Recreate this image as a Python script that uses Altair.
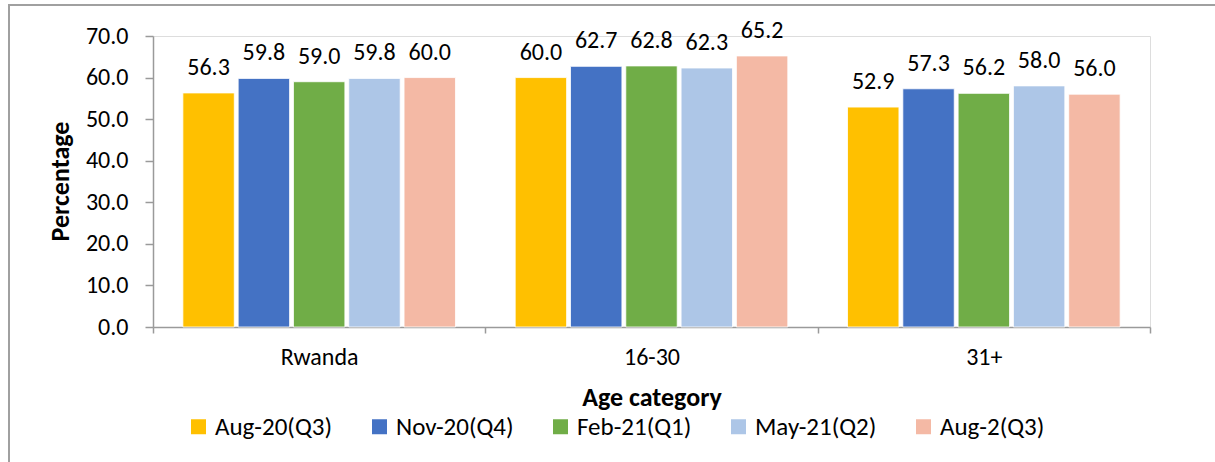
import altair as alt
import pandas as pd

# Age groups and survey rounds
categories = ["Rwanda", "16-30", "31+"]
series = ["Aug-20(Q3)", "Nov-20(Q4)", "Feb-21(Q1)", "May-21(Q2)", "Aug-2(Q3)"]
colors = ["#FFC000", "#4472C4", "#70AD47", "#ADC6E7", "#F4B9A5"]

# Percentage per age group, one list per survey round
aug20 = [56.3, 60.0, 52.9]
nov20 = [59.8, 62.7, 57.3]
feb21 = [59.0, 62.8, 56.2]
may21 = [59.8, 62.3, 58.0]
aug21 = [60.0, 65.2, 56.0]

rows = []
for name, vals in zip(series, [aug20, nov20, feb21, may21, aug21]):
    for cat, v in zip(categories, vals):
        rows.append({"Age category": cat, "Round": name, "Percentage": v})
df = pd.DataFrame(rows)

FONT = "Carlito, Lato, sans-serif"
AXIS_GREY = "#9a9a9a"

x_enc = alt.X(
    "Age category:N",
    sort=categories,
    scale=alt.Scale(paddingInner=0, paddingOuter=0),
    axis=alt.Axis(
        title="Age category",
        labelAngle=0,
        tickBand="extent",
        tickSize=6,
        tickColor=AXIS_GREY,
        tickWidth=1.5,
        domainColor=AXIS_GREY,
        domainWidth=1.5,
        labelPadding=12,
        labelFontSize=24,
        labelFont=FONT,
        labelColor="#000000",
        titleFont=FONT,
        titleFontSize=26,
        titleFontWeight="bold",
        titleColor="#000000",
        titleY=70,
        titleBaseline="middle",
    ),
)
xoff = alt.XOffset("Round:N", sort=series, scale=alt.Scale(paddingInner=0.07, paddingOuter=0.54))
y_enc = alt.Y(
    "Percentage:Q",
    scale=alt.Scale(domain=[0, 70]),
    axis=alt.Axis(
        title="Percentage",
        values=[0, 10, 20, 30, 40, 50, 60, 70],
        format=".1f",
        grid=False,
        tickSize=8,
        tickColor=AXIS_GREY,
        tickWidth=1.5,
        domainColor=AXIS_GREY,
        domainWidth=1.5,
        labelPadding=17,
        labelFontSize=24,
        labelFont=FONT,
        labelColor="#000000",
        titleFont=FONT,
        titleFontSize=26,
        titleFontWeight="bold",
        titleColor="#000000",
        titleX=-93,
        titleY=145,
        titleBaseline="middle",
    ),
)

bars = alt.Chart(df).mark_bar(stroke="white", strokeWidth=0.8).encode(
    x=x_enc,
    xOffset=xoff,
    y=y_enc,
    color=alt.Color(
        "Round:N",
        sort=series,
        scale=alt.Scale(domain=series, range=colors),
        legend=alt.Legend(
            title=None,
            orient="none",
            direction="horizontal",
            legendX=33,
            legendY=378,
            columns=5,
            columnPadding=34,
            symbolType="square",
            symbolSize=225,
            symbolStrokeWidth=0,
            labelFont=FONT,
            labelFontSize=25,
            labelColor="#000000",
            labelOffset=4,
        ),
    ),
)

labels = alt.Chart(df).mark_text(
    baseline="middle", dy=-25, fontSize=24, font=FONT, color="#000000"
).encode(
    x=alt.X("Age category:N", sort=categories),
    xOffset=xoff,
    y="Percentage:Q",
    text=alt.Text("Percentage:Q", format=".1f"),
)

frame = alt.Chart(pd.DataFrame({"k": [0]})).mark_rect(
    fill=None, stroke="#a0a0a0", strokeWidth=2
).encode(
    x=alt.value(-144), x2=alt.value(1100), y=alt.value(-31), y2=alt.value(500)
)

chart = alt.layer(frame, bars, labels).properties(
    width=997,
    height=291,
    padding={"left": 153, "top": 36, "right": 65, "bottom": 135},
    autosize=alt.AutoSizeParams(type="none"),
).configure_view(stroke=None).configure(background="white")

chart.save("out.html", embed_options={"renderer": "svg", "actions": False})
